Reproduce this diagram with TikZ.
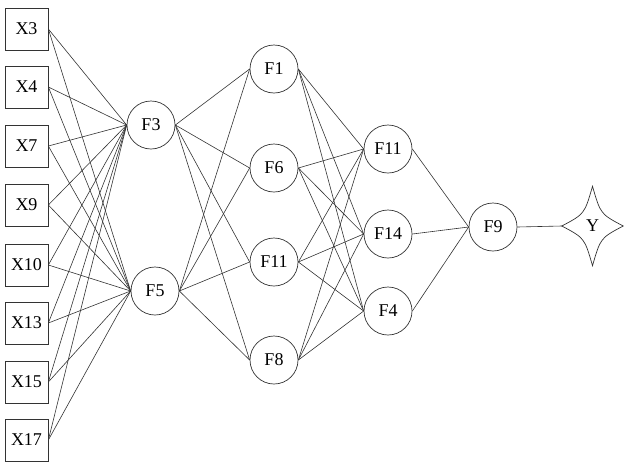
\documentclass[tikz,border=0pt]{standalone}
\usepackage{fontspec}
\setmainfont{Liberation Serif}
\usetikzlibrary{calc}
\begin{document}
\begin{tikzpicture}[x=1pt,y=-1pt,
  lw/.style={line width=0.7pt, draw=black!80},
  inbox/.style={lw, rectangle, minimum width=43pt, minimum height=42pt, inner sep=0pt, font=\fontsize{18}{20}\selectfont},
  fnode/.style={lw, circle, minimum size=48pt, inner sep=0pt, font=\fontsize{18}{20}\selectfont},
  link/.style={line width=0.6pt, draw=black!80}]
\useasboundingbox (0,0) rectangle (636,466);
% inputs
\node[inbox] (x3) at (26.5,29) {X3};
\node[inbox] (x4) at (26.5,87) {X4};
\node[inbox] (x7) at (26.5,146) {X7};
\node[inbox] (x9) at (26.5,205) {X9};
\node[inbox] (x10) at (26.5,265) {X10};
\node[inbox] (x13) at (26.5,323) {X13};
\node[inbox] (x15) at (26.5,382) {X15};
\node[inbox] (x17) at (26.5,440) {X17};
% layer 1
\node[fnode] (f3) at (151,125) {F3};
\node[fnode] (f5) at (155,291) {F5};
% layer 2
\node[fnode] (f1) at (274,69) {F1};
\node[fnode] (f6) at (274,168) {F6};
\node[fnode] (m11) at (274,262) {F11};
\node[fnode] (f8) at (274,360) {F8};
% layer 3
\node[fnode] (r11) at (388,149) {F11};
\node[fnode] (f14) at (388,234) {F14};
\node[fnode] (f4) at (388,311) {F4};
% layer 4
\node[fnode] (f9) at (493,227) {F9};
% output
\node[inner sep=0pt, minimum width=61pt, minimum height=79pt, font=\fontsize{18}{20}\selectfont] (y) at (592.5,226) {Y};
\draw[lw] (y.north) .. controls ($(y)+(8,-12)$) .. (y.east)
  .. controls ($(y)+(8,12)$) .. (y.south)
  .. controls ($(y)+(-8,12)$) .. (y.west)
  .. controls ($(y)+(-8,-12)$) .. (y.north) -- cycle;
% connectors
\foreach \a in {x3,x4,x7,x9,x10,x13,x15,x17}
  \foreach \b in {f3,f5}
    \draw[link] (\a.east) -- (\b.west);
\foreach \a in {f3,f5}
  \foreach \b in {f1,f6,m11,f8}
    \draw[link] (\a.east) -- (\b.west);
\foreach \a in {f1,f6,m11,f8}
  \foreach \b in {r11,f14,f4}
    \draw[link] (\a.east) -- (\b.west);
\foreach \a in {r11,f14,f4}
  \draw[link] (\a.east) -- (f9.west);
\draw[link] (f9.east) -- (y.west);
\end{tikzpicture}
\end{document}
